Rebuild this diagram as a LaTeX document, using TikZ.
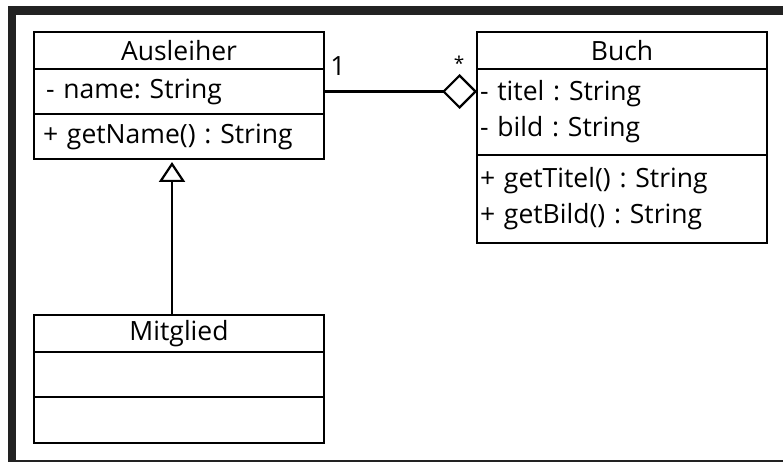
\documentclass[tikz,border=0pt]{standalone}
\usepackage{fontspec}
\setmainfont{Open Sans}
\frenchspacing
\usetikzlibrary{positioning}
\usetikzlibrary{arrows.meta}
\definecolor{framegray}{HTML}{222222}
\newcommand\umlfont{\fontsize{26.5}{36}\selectfont}
\tikzset{umlbox/.style = {draw, line width = 1.6pt, minimum width = 290pt, outer sep = 0, inner ysep = 0, font = \umlfont}}
\tikzset{umlhead/.style = {umlbox, align = center, minimum height = 37pt}}
\tikzset{umlpart/.style = {umlbox, align = left, inner xsep = 3pt, text width = 284pt}}
\tikzset{assoc/.style = {line width = 2.2pt, -{Diamond[open, length = 35pt, width = 35pt]}}}
\tikzset{inherit/.style = {line width = 2.2pt, -{Triangle[open, length = 20pt, width = 26pt]}, shorten > = 3pt}}

\begin{document}
\begin{tikzpicture}[x = 1pt, y = -1pt]
    \useasboundingbox (0, 0) rectangle (783, 462);
    \fill [framegray] (8, 6) rectangle (783, 15);
    \fill [framegray] (8, 6) rectangle (16, 462);
    \fill [framegray] (8, 460) rectangle (783, 462);

    % Ausleiher
    \node [umlhead, anchor = north west] (aus) at (34, 32) {Ausleiher};
    \node [umlpart, below = 0pt of aus, minimum height = 45pt, inner xsep = 12pt, text width = 266pt] (ausattr) {- name: String};
    \node [umlpart, below = 0pt of ausattr, minimum height = 45pt, inner xsep = 9pt, text width = 272pt] (ausop) {+ getName() : String};

    % Buch
    \node [umlhead, anchor = north west] (buch) at (477, 32) {Buch};
    \node [umlpart, below = 0pt of buch, minimum height = 86pt] (buchattr) {- titel : String\\- bild : String};
    \node [umlpart, below = 0pt of buchattr, minimum height = 88pt] (buchop) {+ getTitel() : String\\+ getBild() : String};

    % Mitglied
    \node [umlhead, anchor = north west] (mit) at (34, 315) {Mitglied};
    \node [umlpart, below = 0pt of mit, minimum height = 45pt] (mitattr) {};
    \node [umlpart, below = 0pt of mitattr, minimum height = 46pt] (mitop) {};

    \draw [assoc] (ausattr.east) -- (ausattr.east -| buchattr.west);
    \node [font = \umlfont, inner sep = 0] (one) at (338, 66) {1};
    \node [font = \fontsize{19}{19}\selectfont, inner sep = 0] (many) at (459, 63) {*};

    \draw [inherit] ([xshift = -7pt]mit.north) -- ([xshift = -7pt]ausop.south);
  \end{tikzpicture}
\end{document}
